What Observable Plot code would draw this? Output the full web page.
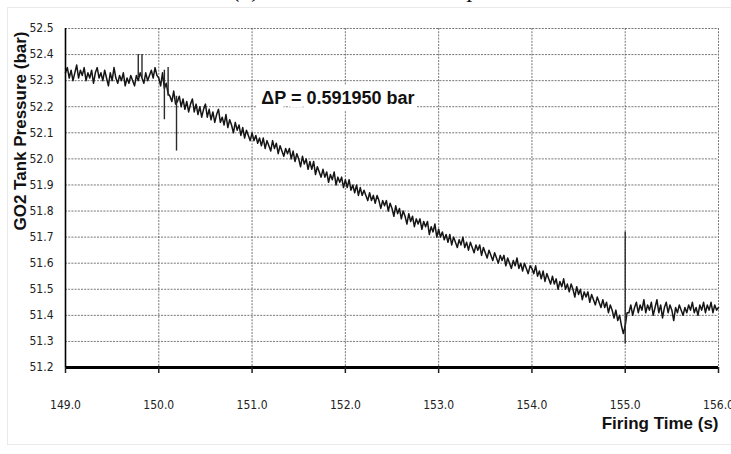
<!DOCTYPE html>
<html><head><meta charset="utf-8">
<script src="https://cdn.jsdelivr.net/npm/d3@7"></script>
<script src="https://cdn.jsdelivr.net/npm/@observablehq/plot@0.6"></script>
<style>
html,body{margin:0;padding:0;background:#fff;}
#wrap{position:relative;width:731px;height:454px;overflow:hidden;}
#frame{position:absolute;left:7px;top:7px;width:730px;height:438px;border:1px solid #e9e9e9;box-sizing:border-box;}
#title{position:absolute;left:233px;top:-23px;font:italic 24px "Liberation Serif",serif;white-space:nowrap;color:#111;line-height:24px;}
#chart{position:absolute;left:0;top:0;}
</style></head>
<body><div id="wrap"><div id="frame"></div><div id="title">(b) Measured GO2 tank pressure</div><div id="chart"></div></div>
<script>
// Sampling of the trace (s)
const t0 = 149.0, dt = 0.02;

// GO2 tank pressure (bar), 149.00 – 149.98 s
const pA = [
  52.33, 52.35, 52.31, 52.34, 52.30, 52.33, 52.36, 52.31, 52.34, 52.32,
  52.35, 52.30, 52.33, 52.31, 52.34, 52.29, 52.33, 52.35, 52.31, 52.33,
  52.30, 52.34, 52.31, 52.28, 52.33, 52.30, 52.35, 52.31, 52.29, 52.32,
  52.30, 52.33, 52.28, 52.31, 52.29, 52.32, 52.30, 52.28, 52.32, 52.30,
  52.33, 52.31, 52.29, 52.33, 52.30, 52.32, 52.34, 52.31, 52.35, 52.32
];
// 150.00 – 150.98 s
const pB = [
  52.31, 52.28, 52.33, 52.27, 52.29, 52.25, 52.24, 52.22, 52.26, 52.21,
  52.22, 52.24, 52.20, 52.23, 52.19, 52.22, 52.18, 52.21, 52.23, 52.18,
  52.21, 52.17, 52.20, 52.16, 52.19, 52.21, 52.16, 52.19, 52.15, 52.18,
  52.14, 52.17, 52.19, 52.14, 52.16, 52.13, 52.17, 52.12, 52.15, 52.13,
  52.10, 52.14, 52.11, 52.13, 52.09, 52.12, 52.08, 52.11, 52.09, 52.07
];
// 151.00 – 151.98 s
const pC = [
  52.10, 52.07, 52.09, 52.06, 52.08, 52.05, 52.08, 52.04, 52.07, 52.05,
  52.03, 52.07, 52.04, 52.06, 52.02, 52.05, 52.03, 52.01, 52.04, 52.02,
  52.04, 52.00, 52.03, 51.99, 52.02, 52.00, 51.97, 52.01, 51.98, 52.00,
  51.96, 51.99, 51.96, 51.99, 51.94, 51.97, 51.95, 51.93, 51.96, 51.93,
  51.95, 51.91, 51.94, 51.92, 51.95, 51.90, 51.93, 51.91, 51.93, 51.89
];
// 152.00 – 152.98 s
const pD = [
  51.92, 51.89, 51.92, 51.88, 51.90, 51.87, 51.90, 51.86, 51.89, 51.86,
  51.88, 51.86, 51.84, 51.87, 51.84, 51.86, 51.83, 51.86, 51.84, 51.81,
  51.84, 51.82, 51.84, 51.80, 51.83, 51.81, 51.78, 51.82, 51.79, 51.81,
  51.77, 51.80, 51.78, 51.75, 51.79, 51.76, 51.78, 51.74, 51.77, 51.75,
  51.77, 51.73, 51.76, 51.74, 51.76, 51.71, 51.74, 51.72, 51.75, 51.70
];
// 153.00 – 153.98 s
const pE = [
  51.73, 51.70, 51.72, 51.69, 51.71, 51.68, 51.71, 51.67, 51.70, 51.68,
  51.66, 51.69, 51.67, 51.70, 51.66, 51.68, 51.65, 51.68, 51.66, 51.64,
  51.67, 51.65, 51.67, 51.63, 51.66, 51.64, 51.62, 51.65, 51.63, 51.61,
  51.64, 51.62, 51.60, 51.63, 51.61, 51.63, 51.59, 51.62, 51.60, 51.58,
  51.61, 51.59, 51.62, 51.58, 51.60, 51.57, 51.60, 51.58, 51.56, 51.59
];
// 154.00 – 154.98 s
const pF = [
  51.58, 51.56, 51.59, 51.55, 51.57, 51.54, 51.57, 51.53, 51.56, 51.54,
  51.52, 51.55, 51.52, 51.54, 51.50, 51.53, 51.51, 51.54, 51.50, 51.52,
  51.49, 51.52, 51.50, 51.47, 51.51, 51.48, 51.50, 51.46, 51.49, 51.47,
  51.49, 51.45, 51.48, 51.46, 51.44, 51.47, 51.45, 51.43, 51.46, 51.43,
  51.45, 51.41, 51.44, 51.42, 51.39, 51.42, 51.38, 51.40, 51.36, 51.33
];
// 155.00 – 156.00 s
const pG = [
  51.36, 51.41, 51.41, 51.44, 51.40, 51.43, 51.45, 51.41, 51.44, 51.42,
  51.46, 51.41, 51.44, 51.42, 51.45, 51.40, 51.43, 51.46, 51.41, 51.44,
  51.39, 51.43, 51.45, 51.41, 51.44, 51.42, 51.38, 51.43, 51.41, 51.44,
  51.42, 51.40, 51.43, 51.41, 51.44, 51.42, 51.45, 51.41, 51.43, 51.40,
  51.44, 51.42, 51.45, 51.41, 51.44, 51.42, 51.45, 51.41, 51.44, 51.42,
  51.43
];

// Narrow spikes in the trace: time (s), low and high pressure (bar)
const spikeT  = [149.78, 149.82, 150.06, 150.10, 150.19, 155.00];
const spikeLo = [52.31, 52.31, 52.15, 52.24, 52.03, 51.29];
const spikeHi = [52.40, 52.40, 52.34, 52.35, 52.24, 51.72];

// Ticks and texts
const xTicks = [149, 150, 151, 152, 153, 154, 155, 156];
const yTicks = [51.2, 51.3, 51.4, 51.5, 51.6, 51.7, 51.8, 51.9, 52.0, 52.1, 52.2, 52.3, 52.4, 52.5];
const yLabel = "GO2 Tank Pressure (bar)";
const xLabel = "Firing Time (s)";
const note = {t: 151.92, p: 52.232, text: "ΔP = 0.591950 bar"};

const pressure = [...pA, ...pB, ...pC, ...pD, ...pE, ...pF, ...pG];
const series = pressure.map((p, i) => ({t: +(t0 + i * dt).toFixed(2), p}));
const spikes = spikeT.map((t, i) => ({t, lo: spikeLo[i], hi: spikeHi[i]}));

const bold = '"Liberation Sans", Arial, sans-serif';
const grid = {stroke: "#555", strokeOpacity: 0.8, strokeDasharray: "2,1.2", strokeWidth: 1};

const chart = Plot.plot({
  width: 731, height: 454,
  marginTop: 28, marginBottom: 87, marginLeft: 65, marginRight: 13,
  x: {domain: [149, 156]},
  y: {domain: [51.2, 52.5]},
  style: {
    fontFamily: '"Liberation Sans Narrow", "Arial Narrow", "DejaVu Sans Condensed", sans-serif',
    fontSize: "12px", color: "#222", background: "transparent", overflow: "visible"
  },
  marks: [
    Plot.gridY(yTicks, grid),
    Plot.gridX(xTicks.slice(1), grid),
    Plot.line(series, {x: "t", y: "p", stroke: "#151515", strokeWidth: 1.5}),
    Plot.ruleX(spikes, {x: "t", y1: "lo", y2: "hi", stroke: "#2a2a2a", strokeWidth: 1.4}),
    Plot.ruleX([149], {stroke: "#000", strokeWidth: 1.6}),
    Plot.ruleY([51.2], {stroke: "#000", strokeWidth: 3}),
    Plot.axisY(yTicks, {tickSize: 0, tickPadding: 12, tickFormat: d => d.toFixed(1), label: null}),
    Plot.axisX(xTicks, {tickSize: 6, tickPadding: 27, tickFormat: d => d.toFixed(1), label: null, strokeWidth: 1.5}),
    Plot.text([note], {x: "t", y: "p", text: "text", fontFamily: bold, fontWeight: "bold", fontSize: 18,
      fill: "#111", stroke: "white", strokeWidth: 12, paintOrder: "stroke"}),
    Plot.text([yLabel], {text: d => d, frameAnchor: "left", textAnchor: "middle", rotate: -90, dx: -45, dy: -67,
      fontFamily: bold, fontWeight: "bold", fontSize: 17, fill: "#111"}),
    Plot.text([xLabel], {text: d => d, frameAnchor: "bottom-right", textAnchor: "end", dy: 61,
      fontFamily: bold, fontWeight: "bold", fontSize: 17, fill: "#111"})
  ]
});
document.getElementById("chart").appendChild(chart);
</script>
</body></html>
